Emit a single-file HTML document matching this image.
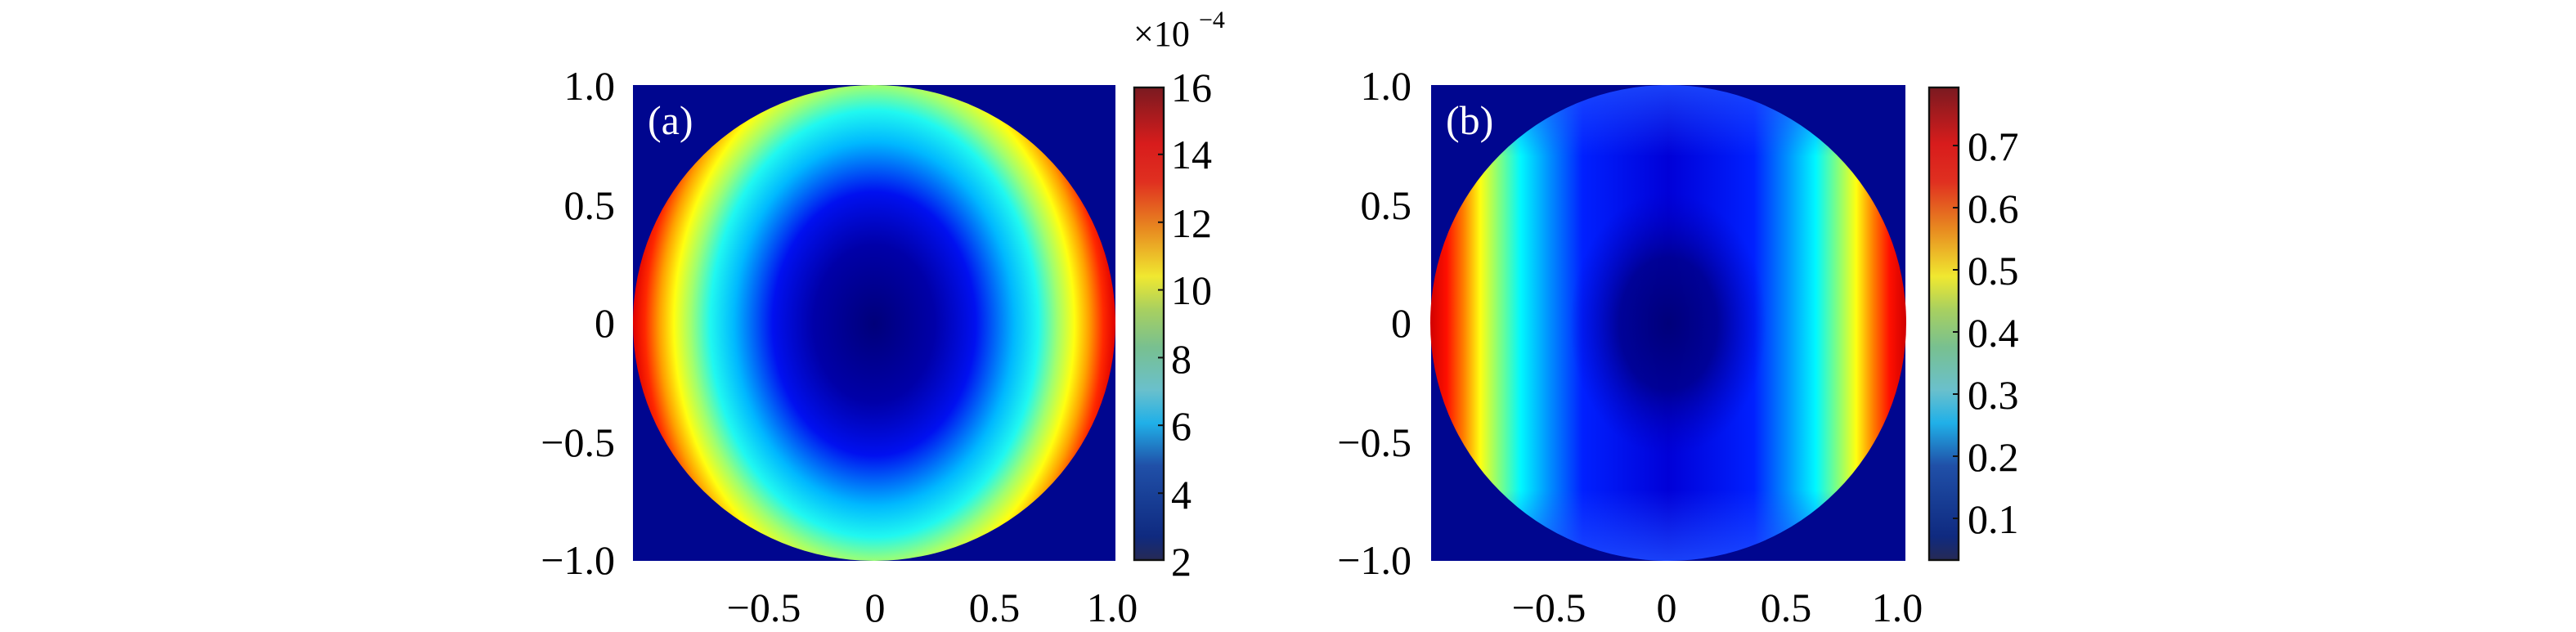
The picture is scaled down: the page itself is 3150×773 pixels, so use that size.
<!DOCTYPE html>
<html><head><meta charset="utf-8"><style>
html,body{margin:0;padding:0;background:#fff;}
svg{display:block;}
text{font-family:"Liberation Serif",serif;fill:#000;}
</style></head><body>
<svg width="3150" height="773" viewBox="0 0 1575 386.5" xmlns="http://www.w3.org/2000/svg">
<defs>
<linearGradient id="cb" x1="0" y1="1" x2="0" y2="0">
<stop offset="0" stop-color="#262a55"/>
<stop offset="0.05" stop-color="#0f2a80"/>
<stop offset="0.2" stop-color="#2050a8"/>
<stop offset="0.29" stop-color="#20b0e8"/>
<stop offset="0.36" stop-color="#6ac0cc"/>
<stop offset="0.45" stop-color="#78c090"/>
<stop offset="0.53" stop-color="#a8d060"/>
<stop offset="0.6" stop-color="#f0e830"/>
<stop offset="0.7" stop-color="#e88a20"/>
<stop offset="0.8" stop-color="#e03020"/>
<stop offset="0.88" stop-color="#d81c1c"/>
<stop offset="1" stop-color="#7a1a20"/>
</linearGradient>
<radialGradient id="ra" gradientUnits="userSpaceOnUse" cx="534.5" cy="198" r="147.5" gradientTransform="translate(534.5 198) scale(1 1.3) translate(-534.5 -198)">
<stop offset="0" stop-color="#00007a"/>
<stop offset="0.25" stop-color="#0000a8"/>
<stop offset="0.42" stop-color="#0010f0"/>
<stop offset="0.58" stop-color="#00b8ff"/>
<stop offset="0.68" stop-color="#20f8f0"/>
<stop offset="0.76" stop-color="#a0ff70"/>
<stop offset="0.83" stop-color="#ffff10"/>
<stop offset="0.89" stop-color="#ffa000"/>
<stop offset="0.95" stop-color="#ff2800"/>
<stop offset="1" stop-color="#e00000"/>
</radialGradient>
<linearGradient id="lb" x1="0" y1="0" x2="1" y2="0">
<stop offset="0" stop-color="#d00000"/>
<stop offset="0.035" stop-color="#ff1000"/>
<stop offset="0.07" stop-color="#ff8000"/>
<stop offset="0.105" stop-color="#ffff10"/>
<stop offset="0.145" stop-color="#80ff80"/>
<stop offset="0.19" stop-color="#00f8ff"/>
<stop offset="0.25" stop-color="#0090ff"/>
<stop offset="0.32" stop-color="#0020ff"/>
<stop offset="0.5" stop-color="#0000d8"/>
<stop offset="0.68" stop-color="#0020ff"/>
<stop offset="0.75" stop-color="#0090ff"/>
<stop offset="0.81" stop-color="#00f8ff"/>
<stop offset="0.855" stop-color="#80ff80"/>
<stop offset="0.895" stop-color="#ffff10"/>
<stop offset="0.93" stop-color="#ff8000"/>
<stop offset="0.965" stop-color="#ff1000"/>
<stop offset="1" stop-color="#d00000"/>
</linearGradient>
<radialGradient id="rb" cx="0.5" cy="0.5" r="0.5">
<stop offset="0" stop-color="#00007a" stop-opacity="1"/>
<stop offset="0.3" stop-color="#00008a" stop-opacity="0.85"/>
<stop offset="0.6" stop-color="#0000c0" stop-opacity="0"/>
<stop offset="1" stop-color="#0000c0" stop-opacity="0"/>
</radialGradient>
<linearGradient id="tb" x1="0" y1="0" x2="0" y2="1">
<stop offset="0" stop-color="#2050ff" stop-opacity="0.8"/>
<stop offset="0.15" stop-color="#2050ff" stop-opacity="0"/>
<stop offset="0.85" stop-color="#2050ff" stop-opacity="0"/>
<stop offset="1" stop-color="#2050ff" stop-opacity="0.8"/>
</linearGradient>
</defs>

<!-- Panel a -->
<rect x="387" y="52" width="295" height="291" fill="#00068f"/>
<ellipse cx="534.5" cy="197.5" rx="147.5" ry="145.5" fill="url(#ra)"/>
<text x="396" y="82" font-size="25" style="fill:#fff">(a)</text>
<g font-size="25" text-anchor="end">
<text x="376" y="61">1.0</text>
<text x="376" y="134">0.5</text>
<text x="376" y="206">0</text>
<text x="376" y="279">−0.5</text>
<text x="376" y="351">−1.0</text>
</g>
<g font-size="25" text-anchor="middle">
<text x="467" y="380">−0.5</text>
<text x="535" y="380">0</text>
<text x="608" y="380">0.5</text>
<text x="680" y="380">1.0</text>
</g>
<rect x="693.5" y="53.5" width="18" height="289" fill="url(#cb)" stroke="#111" stroke-width="1.2"/>
<g stroke="#111" stroke-width="1">
<line x1="708" y1="94.4" x2="711" y2="94.4"/><line x1="708" y1="135.9" x2="711" y2="135.9"/>
<line x1="708" y1="177.3" x2="711" y2="177.3"/><line x1="708" y1="218.7" x2="711" y2="218.7"/>
<line x1="708" y1="260.1" x2="711" y2="260.1"/><line x1="708" y1="301.6" x2="711" y2="301.6"/>
</g>
<g font-size="25">
<text x="716" y="62">16</text><text x="716" y="103">14</text><text x="716" y="145">12</text>
<text x="716" y="186">10</text><text x="716" y="228">8</text><text x="716" y="269">6</text>
<text x="716" y="311">4</text><text x="716" y="352">2</text>
</g>
<text x="693" y="28" font-size="22">×10</text><text x="733" y="17" font-size="15">−4</text>

<!-- Panel b -->
<rect x="875" y="52" width="290" height="291" fill="#00068f"/>
<circle cx="1020" cy="197.5" r="145.5" fill="url(#lb)"/>
<circle cx="1020" cy="197.5" r="145.5" fill="url(#tb)"/>
<ellipse cx="1020" cy="198" rx="100" ry="135" fill="url(#rb)"/>
<text x="884" y="82" font-size="25" style="fill:#fff">(b)</text>
<g font-size="25" text-anchor="end">
<text x="863" y="61">1.0</text>
<text x="863" y="134">0.5</text>
<text x="863" y="206">0</text>
<text x="863" y="279">−0.5</text>
<text x="863" y="351">−1.0</text>
</g>
<g font-size="25" text-anchor="middle">
<text x="947" y="380">−0.5</text>
<text x="1019" y="380">0</text>
<text x="1092" y="380">0.5</text>
<text x="1160" y="380">1.0</text>
</g>
<rect x="1179.5" y="53.5" width="18" height="289" fill="url(#cb)" stroke="#111" stroke-width="1.2"/>
<g stroke="#111" stroke-width="1">
<line x1="1194" y1="89" x2="1197" y2="89"/><line x1="1194" y1="127" x2="1197" y2="127"/>
<line x1="1194" y1="165" x2="1197" y2="165"/><line x1="1194" y1="203" x2="1197" y2="203"/>
<line x1="1194" y1="241" x2="1197" y2="241"/><line x1="1194" y1="279" x2="1197" y2="279"/>
<line x1="1194" y1="317" x2="1197" y2="317"/>
</g>
<g font-size="25">
<text x="1203" y="98">0.7</text><text x="1203" y="136">0.6</text><text x="1203" y="174">0.5</text>
<text x="1203" y="212">0.4</text><text x="1203" y="250">0.3</text><text x="1203" y="288">0.2</text>
<text x="1203" y="326">0.1</text>
</g>
</svg>
</body></html>
